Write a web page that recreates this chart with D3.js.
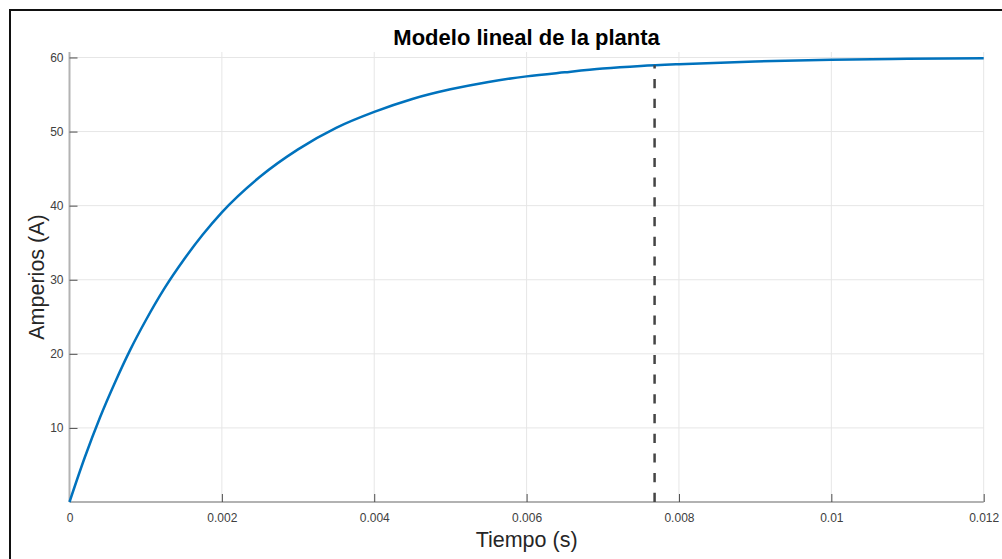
<!DOCTYPE html>
<html>
<head>
<meta charset="utf-8">
<script src="https://cdn.jsdelivr.net/npm/d3@7"></script>
<style>
html,body{margin:0;padding:0;background:#fff;}
svg{display:block;}
</style>
</head>
<body>
<svg id="chart" width="1002" height="559"></svg>
<script>
// Data
const timeValues = [0, 0.0002, 0.0004, 0.0006, 0.0008, 0.001, 0.00125, 0.0015, 0.00175, 0.002, 0.0025, 0.003, 0.0035, 0.004, 0.0045, 0.005, 0.0055, 0.006, 0.0065, 0.007, 0.0075, 0.008, 0.009, 0.01, 0.011, 0.012];
const currentValues = [0, 6.0, 11.4, 16.2, 20.6, 24.5, 28.9, 32.7, 36.1, 39.1, 43.9, 47.6, 50.5, 52.65, 54.4, 55.7, 56.7, 57.45, 58.0, 58.5, 58.85, 59.1, 59.47, 59.69, 59.82, 59.89];
const markerTime = [0.00768];
const markerValue = [58.95];
const xTicks = [0, 0.002, 0.004, 0.006, 0.008, 0.01, 0.012];
const xTickLabels = ["0", "0.002", "0.004", "0.006", "0.008", "0.01", "0.012"];
const yTicks = [10, 20, 30, 40, 50, 60];
const yTickLabels = ["10", "20", "30", "40", "50", "60"];
const titleText = "Modelo lineal de la planta";
const xLabelText = "Tiempo (s)";
const yLabelText = "Amperios (A)";

const svg = d3.select("#chart");
const pLeft = 69.5, pRight = 983.7, pTop = 52, pBottom = 502;

const x = d3.scaleLinear().domain([0, 0.012]).range([pLeft, pRight]);
const y = d3.scaleLinear().domain([0, 60.74]).range([pBottom, pTop]);

// outer frame
svg.append("rect").attr("x", 10).attr("y", 10).attr("width", 1100).attr("height", 700)
  .attr("fill", "none").attr("stroke", "#111").attr("stroke-width", 2);

// grid lines
const grid = svg.append("g");
grid.selectAll("line.vg").data(xTicks.filter(d => d > 0)).join("line")
  .attr("x1", d => x(d)).attr("x2", d => x(d)).attr("y1", pTop).attr("y2", pBottom)
  .attr("stroke", "#e6e6e6").attr("stroke-width", 1);
grid.selectAll("line.hg").data(yTicks).join("line")
  .attr("x1", pLeft).attr("x2", pRight).attr("y1", d => y(d)).attr("y2", d => y(d))
  .attr("stroke", "#e6e6e6").attr("stroke-width", 1);

// y axis
const yAxis = d3.axisLeft(y).tickValues(yTicks).tickFormat((d, i) => yTickLabels[i]).tickSize(-8).tickPadding(6);
const gy = svg.append("g").attr("transform", `translate(${pLeft},0)`).call(yAxis);
gy.select(".domain").attr("stroke", "#b3b3b3").attr("stroke-width", 2).attr("d", `M0,${pTop}V${pBottom}`);
gy.selectAll(".tick line").attr("stroke", "#4d4d4d");
gy.selectAll(".tick text").attr("fill", "#404040").style("font-family", "Liberation Sans, Arial, sans-serif").style("font-size", "12px");

// x axis
const xAxis = d3.axisBottom(x).tickValues(xTicks).tickFormat((d, i) => xTickLabels[i]).tickSize(-8).tickPadding(11);
const gx = svg.append("g").attr("transform", `translate(0,${pBottom})`).call(xAxis);
gx.select(".domain").attr("stroke", "#666").attr("stroke-width", 1.2).attr("d", `M${pLeft},0H${pRight}`);
gx.selectAll(".tick line").attr("stroke", "#4d4d4d");
gx.selectAll(".tick").filter(d => d === 0).select("line").remove();
gx.selectAll(".tick text").attr("fill", "#404040").style("font-family", "Liberation Sans, Arial, sans-serif").style("font-size", "12px");

// curve
const pts = timeValues.map((t, i) => [t, currentValues[i]]);
const line = d3.line().x(d => x(d[0])).y(d => y(d[1])).curve(d3.curveMonotoneX);
svg.append("path").datum(pts).attr("d", line)
  .attr("fill", "none").attr("stroke", "#0072BD").attr("stroke-width", 2.5);

// dashed marker
svg.selectAll("line.mk").data(markerTime).join("line")
  .attr("x1", d => x(d)).attr("x2", d => x(d))
  .attr("y1", y(0)).attr("y2", (d, i) => y(markerValue[i]))
  .attr("stroke", "#444").attr("stroke-width", 2.5).attr("stroke-dasharray", "9.2,10.5");

// title
svg.append("text").attr("x", (pLeft + pRight) / 2).attr("y", 45).attr("text-anchor", "middle")
  .style("font-family", "Liberation Sans, Arial, sans-serif").style("font-weight", "bold").style("font-size", "22px")
  .attr("fill", "#000").text(titleText);

// axis labels
svg.append("text").attr("x", (pLeft + pRight) / 2).attr("y", 547).attr("text-anchor", "middle")
  .style("font-family", "Liberation Sans, Arial, sans-serif").style("font-size", "21.5px")
  .attr("fill", "#262626").text(xLabelText);
svg.append("text").attr("transform", `translate(44,${(pTop + pBottom) / 2}) rotate(-90)`).attr("text-anchor", "middle")
  .style("font-family", "Liberation Sans, Arial, sans-serif").style("font-size", "21.5px")
  .attr("fill", "#262626").text(yLabelText);
</script>
</body>
</html>
